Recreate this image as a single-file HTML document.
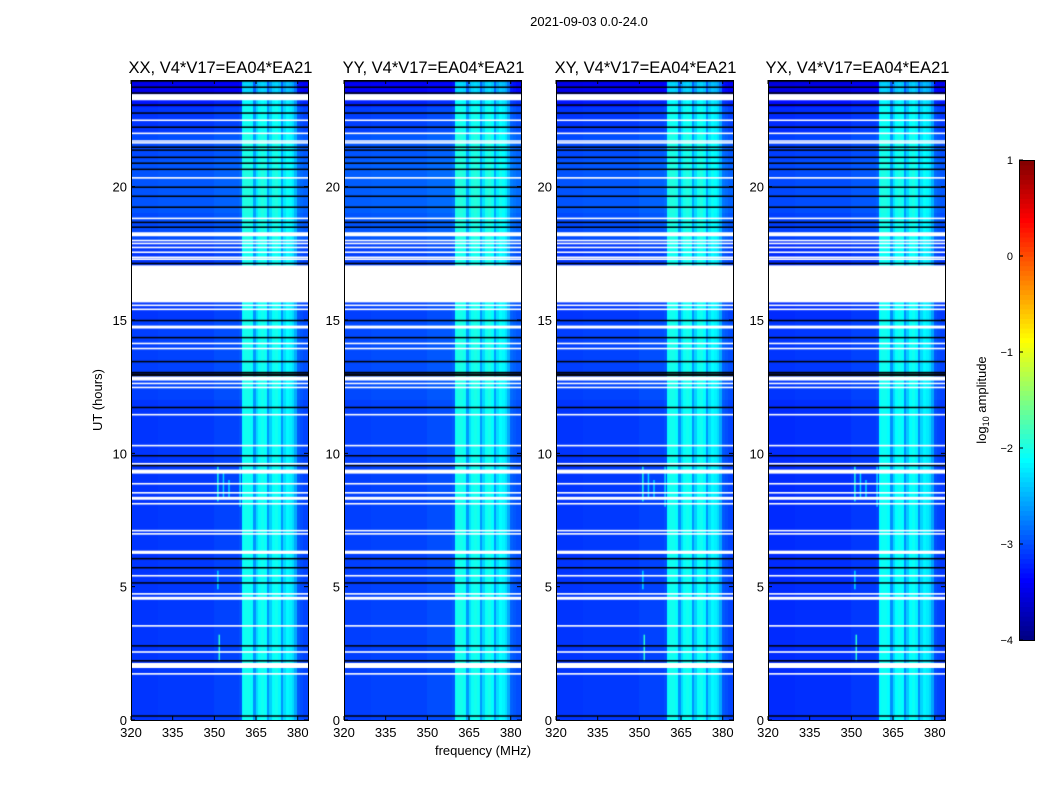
<!DOCTYPE html>
<html><head><meta charset="utf-8">
<style>
body{margin:0;background:#fff;width:1050px;height:800px;overflow:hidden;font-family:"Liberation Sans",sans-serif;}
#wrap{position:relative;width:1050px;height:800px;}
canvas{position:absolute;}
svg{position:absolute;left:0;top:0;}
</style></head>
<body><div id="wrap">
<svg id="svg" width="1050" height="800"></svg>
</div>
<script>
// ---- data ----
const panelNames = ["XX, V4*V17=EA04*EA21","YY, V4*V17=EA04*EA21","XY, V4*V17=EA04*EA21","YX, V4*V17=EA04*EA21"];
const panelOffsets = [0, 0.05, 0, -0.05];
const freqStart = 320; // MHz, 1 MHz channels
const channelLevels = [
-3.12,-3.12,-3.12,-3.12,-3.12,-3.12,-3.12,-3.12,-3.12,-3.12,
-3.1,-3.1,-3.1,-3.1,-3.1,-3.1,-3.1,-3.1,-3.1,-3.1,
-3.1,-3.1,-3.1,-3.1,-3.1,-3.1,-3.1,-3.1,-3.1,-3.1,
-3.05,-3.05,-3.05,-3.05,-3.05,-3.05,-3.05,-3.05,-3.05,-3.0,
-2.1,-2.05,-2.05,-2.1,-2.65,-2.3,-2.1,-2.05,-2.1,-2.65,
-2.35,-2.1,-2.05,-2.15,-2.65,-2.3,-2.15,-2.2,-2.3,-2.55,
-2.95,-3.0,-3.05,-3.05];
const hourOffsets = [0,0,0,0,0,0,0,0,0,0,0,0,0.05,0.05,0.05,0,0,0,0.1,0.15,0.15,0.1,0,-0.15];
const flaggedWhite = [[23.24,23.47],[22.46,22.52],[21.97,22.03],[21.63,21.67],[21.70,21.74],[20.30,20.36],[18.78,18.84],
[18.14,18.29],[17.95,18.01],[17.84,17.90],[17.69,17.75],[17.51,17.57],[17.32,17.38],[17.25,17.31],[15.66,17.05],
[15.52,15.58],[15.37,15.43],[14.68,14.79],[14.09,14.15],[13.90,13.96],[12.73,12.88],[12.59,12.65],[12.44,12.50],
[11.42,11.48],[10.26,10.32],[9.58,9.64],[9.24,9.39],[8.83,8.89],[8.49,8.55],[8.26,8.37],[8.08,8.14],[7.07,7.13],
[6.95,7.01],[6.23,6.35],[5.38,5.44],[4.70,4.76],[4.51,4.62],[3.50,3.56],[2.52,2.58],[1.95,2.14],[1.70,1.76]];
const flaggedBlack = [23.96,23.73,23.51,23.06,22.76,22.23,21.48,21.37,21.10,20.88,20.65,19.98,19.64,19.23,18.66,18.48,
17.12,14.98,14.34,13.44,12.92,12.97,13.03,11.72,9.91,9.54,6.05,5.71,5.14,2.78,2.22,0.15];
const rfiLines = [[351,8.2,9.5,-2.0],[351.5,2.2,3.2,-1.9],[353,8.3,9.3,-2.3],[355,8.3,9.0,-2.3],[351,4.9,5.6,-2.3],[359,8.0,9.5,-2.3]];
const xTicks = [320,335,350,365,380];
const yTicks = [0,5,10,15,20];
const cbTicks = [1,0,-1,-2,-3,-4];
// ---- layout ----
const panelX = [131,344,556,768], pW = 177, pTop = 80, pBot = 720;
const fMin = 320, fMax = 383.7, tMax = 24, vMin = -4, vMax = 1;
const xs = (f,i)=> panelX[i] + (f-fMin)/(fMax-fMin)*pW;
const ys = h => pBot - h/tMax*(pBot-pTop);
function jet(t){t=Math.max(0,Math.min(1,t));const c=x=>Math.round(255*Math.max(0,Math.min(1,x)));
 return `rgb(${c(1.5-Math.abs(4*t-3))},${c(1.5-Math.abs(4*t-2))},${c(1.5-Math.abs(4*t-1))})`;}
const col = v => jet((v-vMin)/(vMax-vMin));
const svg = document.getElementById('svg'), NS="http://www.w3.org/2000/svg";
function el(tag,attrs,text){const e=document.createElementNS(NS,tag);for(const k in attrs)e.setAttribute(k,attrs[k]);if(text!==undefined)e.textContent=text;svg.appendChild(e);return e;}
const wrap=document.getElementById('wrap');
panelNames.forEach((name,i)=>{
 const cv=document.createElement('canvas');
 cv.width=pW;cv.height=pBot-pTop;cv.style.left=panelX[i]+'px';cv.style.top=pTop+'px';
 
 
 wrap.insertBefore(cv,svg);
 const g=cv.getContext('2d');
 for(let y=0;y<cv.height;y++){
  const h=tMax*(cv.height-y-0.5)/cv.height;
  const off=hourOffsets[Math.min(23,Math.floor(h))]+panelOffsets[i];
  for(let c=0;c<channelLevels.length;c++){
   const x0=xs(freqStart+c,i)-panelX[i],x1=xs(freqStart+c+1,i)-panelX[i];
   let v=channelLevels[c]+(channelLevels[c]>-2.7?off*0.5:off);
   if(h>23.5) v-=0.2;
   g.fillStyle=col(v);g.fillRect(Math.floor(x0),y,Math.ceil(x1)-Math.floor(x0),1);
  }
 }
 rfiLines.forEach(r=>{if(i===1)return;g.fillStyle=col(r[3]);
  g.fillRect(xs(r[0],i)-panelX[i],ys(r[2])-pTop,1.5,ys(r[1])-ys(r[2]));});
 g.fillStyle='#000';
 flaggedBlack.forEach(h=>g.fillRect(0,ys(h)-pTop-0.75,pW,1.5));
 g.fillStyle='#fff';
 flaggedWhite.forEach(r=>g.fillRect(0,ys(r[1])-pTop,pW,Math.max(1.5,ys(r[0])-ys(r[1]))));
 const fr=el('rect',{x:panelX[i]+0.5,y:pTop+0.5,width:pW,height:pBot-pTop,fill:'none',stroke:'#000','stroke-width':1});
 
 el('text',{x:panelX[i]+pW/2+1,y:73,'text-anchor':'middle','font-size':16.5,},name);
 xTicks.forEach(t=>{const x=xs(t,i);
  el('line',{x1:x,x2:x,y1:pBot,y2:pBot-4,stroke:'#000'});el('line',{x1:x,x2:x,y1:pTop,y2:pTop+4,stroke:'#000'});
  el('text',{x:x,y:737,'text-anchor':'middle','font-size':13,},t);});
 yTicks.forEach(t=>{const y=ys(t);
  el('line',{x1:panelX[i],x2:panelX[i]+4,y1:y,y2:y,stroke:'#000'});el('line',{x1:panelX[i]+pW,x2:panelX[i]+pW-4,y1:y,y2:y,stroke:'#000'});
  el('text',{x:panelX[i]-4,y:y+5,'text-anchor':'end','font-size':13,},t);});
});
el('text',{x:589,y:26,'text-anchor':'middle','font-size':13,},'2021-09-03 0.0-24.0');
el('text',{x:483,y:755,'text-anchor':'middle','font-size':13,},'frequency (MHz)');
el('text',{x:102,y:400,'text-anchor':'middle','font-size':13,transform:'rotate(-90 102 400)',},'UT (hours)');
const cbX=1019,cbW=15,cbTop=160,cbBot=640;
const cy=v=>cbBot-(v-vMin)/(vMax-vMin)*(cbBot-cbTop);
for(let k=0;k<100;k++){const v0=vMin+k*(vMax-vMin)/100,v1=v0+(vMax-vMin)/100;
 const r=el('rect',{x:cbX,y:cy(v1),width:cbW,height:cy(v0)-cy(v1)+0.6,fill:col((v0+v1)/2)});
 }
el('rect',{x:cbX+0.5,y:cbTop+0.5,width:cbW,height:cbBot-cbTop,fill:'none',stroke:'#000',});
cbTicks.forEach(t=>{const y=cy(t);
 el('line',{x1:cbX,x2:cbX+4,y1:y,y2:y,stroke:'#000'});
 el('text',{x:1013,y:y+4,'text-anchor':'end','font-size':11,},t<0?'\u2212'+(-t):t);});
const lb=el('text',{x:986,y:400,'text-anchor':'middle','font-size':13,transform:'rotate(-90 986 400)',});
lb.innerHTML='log<tspan font-size="9" dy="3">10</tspan><tspan dy="-3"> amplitude</tspan>';
</script>
</body></html>
